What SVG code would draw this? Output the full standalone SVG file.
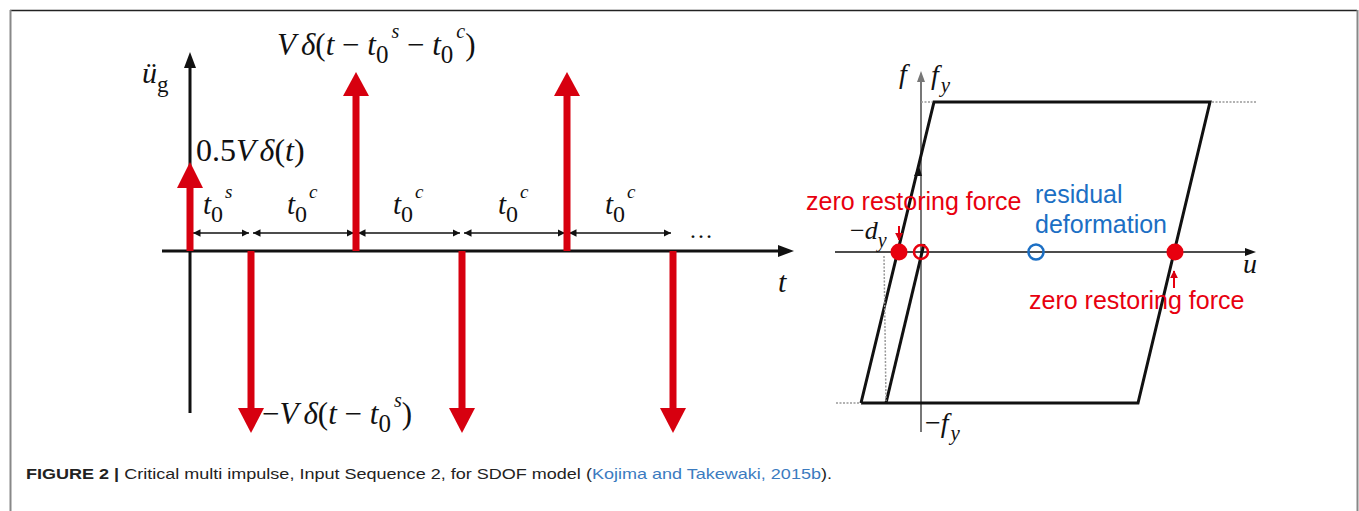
<svg xmlns="http://www.w3.org/2000/svg" width="1359" height="511" viewBox="0 0 1359 511">
<style>
.m{font-family:"Liberation Serif","Times New Roman",serif;font-style:italic;fill:#111}
.n{font-family:"Liberation Serif","Times New Roman",serif;font-style:normal;fill:#111}
.red{fill:#d7000f}
.rs{stroke:#d7000f;stroke-width:7;fill:none}
.ax{stroke:#111;stroke-width:3;fill:none}
.dim{stroke:#111;stroke-width:1.5;fill:none}
.hy{stroke:#111;stroke-width:3;fill:none;stroke-linejoin:miter}
.dot{stroke:#999;stroke-width:1.5;stroke-dasharray:2 1.5;fill:none}
.lab{font-family:"Liberation Sans",Arial,sans-serif;font-size:25px}
.cap{font-family:"Liberation Sans",Arial,sans-serif;font-size:15px;fill:#222}
</style>
<defs>
<marker id="dh" viewBox="0 0 10 10" refX="10" refY="5" markerWidth="5" markerHeight="5" orient="auto-start-reverse" markerUnits="strokeWidth">
<path d="M0,0 L10,5 L0,10 z" fill="#111"/>
</marker>
<marker id="rh" viewBox="0 0 10 10" refX="9" refY="5" markerWidth="4" markerHeight="4" orient="auto" markerUnits="strokeWidth">
<path d="M0,0 L10,5 L0,10 z" fill="#d7000f"/>
</marker>
</defs>
<g id="frame">
<line x1="10" y1="10.5" x2="1357" y2="10.5" stroke="#222" stroke-width="1.5"/>
<line x1="10.5" y1="10" x2="10.5" y2="511" stroke="#888" stroke-width="2"/>
<line x1="1357.5" y1="10" x2="1357.5" y2="511" stroke="#888" stroke-width="2"/>
</g>
<g id="left-axes">
<line class="ax" x1="190" y1="413" x2="190" y2="66"/>
<polygon points="184,68 196,68 190,52" fill="#111"/>
<line class="ax" x1="162" y1="251" x2="780" y2="251"/>
<polygon points="778,245 778,257 794,251" fill="#111"/>
</g>
<g id="connectors">
<line class="dim" x1="193" y1="233" x2="249" y2="233" marker-start="url(#dh)" marker-end="url(#dh)"/>
<line class="dim" x1="253" y1="233" x2="354" y2="233" marker-start="url(#dh)" marker-end="url(#dh)"/>
<line class="dim" x1="358" y1="233" x2="460" y2="233" marker-start="url(#dh)" marker-end="url(#dh)"/>
<line class="dim" x1="464" y1="233" x2="565" y2="233" marker-start="url(#dh)" marker-end="url(#dh)"/>
<line class="dim" x1="569" y1="233" x2="671" y2="233" marker-start="url(#dh)" marker-end="url(#dh)"/>
</g>
<g id="impulses">
<g id="imp0"><line class="rs" x1="190" y1="251" x2="190" y2="186"/><polygon class="red" points="177,188 203,188 190,162"/></g>
<g id="imp1"><line class="rs" x1="251" y1="251" x2="251" y2="410"/><polygon class="red" points="238,408 264,408 251,433"/></g>
<g id="imp2"><line class="rs" x1="356" y1="251" x2="356" y2="93"/><polygon class="red" points="343,96 369,96 356,72"/></g>
<g id="imp3"><line class="rs" x1="462" y1="251" x2="462" y2="410"/><polygon class="red" points="449,408 475,408 462,433"/></g>
<g id="imp4"><line class="rs" x1="567" y1="251" x2="567" y2="93"/><polygon class="red" points="554,96 580,96 567,72"/></g>
<g id="imp5"><line class="rs" x1="673" y1="251" x2="673" y2="410"/><polygon class="red" points="660,408 686,408 673,433"/></g>
</g>
<g id="left-labels">
<text class="m" x="142" y="83" font-size="30">ü<tspan font-size="23" dy="9" font-style="normal">g</tspan></text>
<text class="n" x="196" y="161" font-size="32">0.5<tspan font-style="italic">V</tspan><tspan font-style="italic" dx="4">δ</tspan>(<tspan font-style="italic">t</tspan>)</text>
<text class="n" x="277" y="55" font-size="31"><tspan font-style="italic">V</tspan><tspan font-style="italic" dx="5">δ</tspan>(<tspan font-style="italic">t</tspan> − <tspan font-style="italic">t</tspan><tspan font-size="25" dy="8">0</tspan><tspan font-size="20" font-style="italic" dy="-25" dx="3">s</tspan><tspan dy="17"> − </tspan><tspan font-style="italic">t</tspan><tspan font-size="25" dy="8">0</tspan><tspan font-size="20" font-style="italic" dy="-25" dx="3">c</tspan><tspan dy="17">)</tspan></text>
<text class="n" x="262" y="424" font-size="31">−<tspan font-style="italic">V</tspan><tspan font-style="italic" dx="5">δ</tspan>(<tspan font-style="italic">t</tspan> − <tspan font-style="italic">t</tspan><tspan font-size="25" dy="8">0</tspan><tspan font-size="20" font-style="italic" dy="-25" dx="3">s</tspan><tspan dy="17">)</tspan></text>
<text class="m" x="203" y="214" font-size="29">t<tspan font-style="normal" font-size="24" dy="8">0</tspan><tspan font-size="19" dy="-24" dx="2">s</tspan></text>
<text class="m" x="287" y="214" font-size="29">t<tspan font-style="normal" font-size="24" dy="8">0</tspan><tspan font-size="19" dy="-24" dx="2">c</tspan></text>
<text class="m" x="393" y="214" font-size="29">t<tspan font-style="normal" font-size="24" dy="8">0</tspan><tspan font-size="19" dy="-24" dx="2">c</tspan></text>
<text class="m" x="498" y="214" font-size="29">t<tspan font-style="normal" font-size="24" dy="8">0</tspan><tspan font-size="19" dy="-24" dx="2">c</tspan></text>
<text class="m" x="605" y="214" font-size="29">t<tspan font-style="normal" font-size="24" dy="8">0</tspan><tspan font-size="19" dy="-24" dx="2">c</tspan></text>
<text class="n" x="689" y="238" font-size="24">…</text>
<text class="m" x="778" y="292" font-size="30">t</text>
</g>
<g id="right-axes">
<line x1="921" y1="432" x2="921" y2="80" stroke="#777" stroke-width="2"/>
<polygon points="917,82 925,82 921,71" fill="#777"/>
<line x1="835" y1="252" x2="1248" y2="252" stroke="#111" stroke-width="1.5"/>
<polygon points="1245,248 1245,256 1256,252" fill="#111"/>
</g>
<g id="hysteresis">
<polyline class="hy" points="861,403 934,102 1210,102 1138,403 861,403"/>
<line class="hy" x1="886" y1="403" x2="924" y2="244"/>
<polygon points="914,176 922,176 919,166" fill="#111"/>
<line class="dot" x1="1212" y1="102" x2="1257" y2="102"/>
<line class="dot" x1="921" y1="102" x2="932" y2="102"/>
<line class="dot" x1="836" y1="403" x2="859" y2="403"/>
<line class="dot" x1="884" y1="256" x2="886" y2="401"/>
</g>
<g id="markers">
<circle cx="899" cy="252" r="8.5" fill="#e8000f"/>
<circle cx="1175" cy="252" r="8.5" fill="#e8000f"/>
<circle cx="921" cy="252" r="7" fill="none" stroke="#e8000f" stroke-width="2.5"/>
<circle cx="1036" cy="252" r="7.5" fill="none" stroke="#1c6fc4" stroke-width="2.5"/>
<line x1="899" y1="226" x2="899" y2="240" stroke="#e8000f" stroke-width="2" marker-end="url(#rh)"/>
<line x1="1174" y1="288" x2="1174" y2="271" stroke="#e8000f" stroke-width="2" marker-end="url(#rh)"/>
</g>
<g id="right-labels">
<text class="m" x="899" y="83" font-size="28">f</text>
<text class="m" x="931" y="84" font-size="28">f<tspan font-size="21" dy="8" dx="2">y</tspan></text>
<text class="n" x="850" y="239" font-size="26">−<tspan font-style="italic">d</tspan><tspan font-style="italic" font-size="20" dy="8">y</tspan></text>
<text class="m" x="1243" y="273" font-size="28">u</text>
<text class="n" x="925" y="432" font-size="28">−<tspan font-style="italic">f</tspan><tspan font-style="italic" font-size="21" dy="8" dx="2">y</tspan></text>
<text class="lab" x="806" y="210" fill="#e8000f">zero restoring force</text>
<text class="lab" x="1035" y="203" fill="#1c6fc4">residual</text>
<text class="lab" x="1035" y="233" fill="#1c6fc4">deformation</text>
<text class="lab" x="1029" y="309" fill="#e8000f">zero restoring force</text>
</g>
<g id="caption">
<text class="cap" x="26" y="479" textLength="806" lengthAdjust="spacingAndGlyphs"><tspan font-weight="bold">FIGURE 2 | </tspan>Critical multi impulse, Input Sequence 2, for SDOF model (<tspan fill="#3b7bbf">Kojima and Takewaki, 2015b</tspan>).</text>
</g>
</svg>
